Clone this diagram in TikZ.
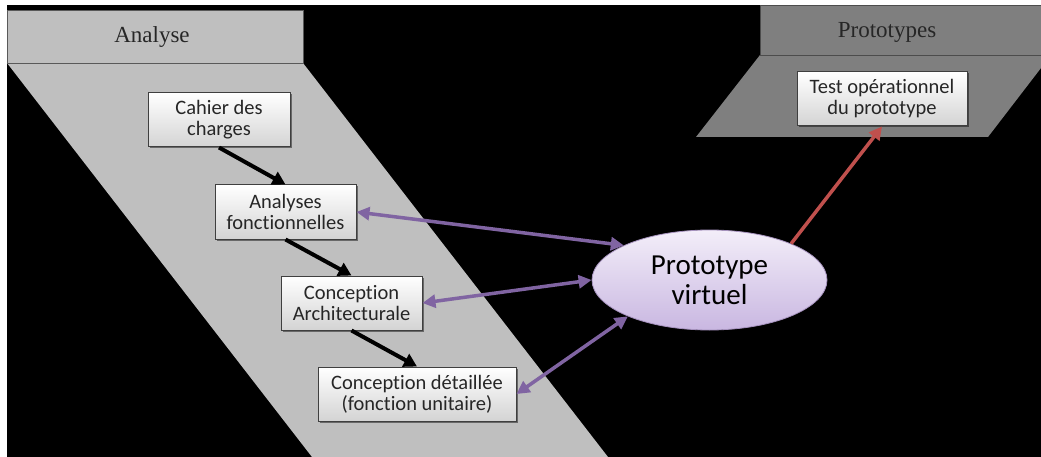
\documentclass[tikz,border=0pt]{standalone}
\usepackage{fontspec}
\newfontfamily\calib[Ligatures=NoCommon]{Carlito}
\newfontfamily\timesf{Liberation Serif}
\usetikzlibrary{shapes.geometric,arrows.meta,shadows}
\definecolor{bandgray}{HTML}{BFBFBF}
\definecolor{protogray}{HTML}{7F7F7F}
\definecolor{ppl}{HTML}{8064A2}
\definecolor{rd}{HTML}{C0504D}
\definecolor{boxline}{HTML}{3F3F3F}
\definecolor{txt}{HTML}{262626}
\definecolor{elltop}{HTML}{F3EEF9}
\definecolor{ellbot}{HTML}{C9B7E1}
\begin{document}
\begin{tikzpicture}[x=1pt,y=-1pt,
  stepbox/.style={draw=boxline, line width=1pt, top color=white, bottom color=black!17,
    minimum height=54pt, inner sep=0pt, align=center,
    font=\calib\fontsize{20.5}{21}\selectfont, text=txt,
    drop shadow={shadow xshift=1.5pt, shadow yshift=-1.5pt, opacity=0.45, fill=black}},
  headtext/.style={font=\timesf\fontsize{23}{26}\selectfont, text=txt},
  flow/.style={line width=4pt, black, -{Triangle[length=13pt,width=14pt]}},
  link/.style={line width=3.5pt, ppl, {Triangle[length=13pt,width=13pt]}-{Triangle[length=13pt,width=13pt]}},
  redarrow/.style={line width=3.5pt, rd, -{Triangle[length=13pt,width=13pt]}},
  ellnode/.style={ellipse, draw=ppl!70, line width=0.8pt, top color=elltop, bottom color=ellbot,
    minimum width=235pt, minimum height=100pt, inner sep=0pt, align=center,
    font=\calib\fontsize{29}{30}\selectfont, text=black}
]
\useasboundingbox (0,0) rectangle (1041,457);
\fill[white] (0,0) rectangle (1041,457);
\fill[black] (7,5) rectangle (1041,457);

% Analyse column
\fill[bandgray] (7,63) -- (303,63) -- (608,457) -- (312,457) -- cycle;
\filldraw[fill=bandgray, draw=black!65, line width=0.8pt] (7,10) rectangle (303,63);
\node[headtext] (hA) at (152,37) {Analyse};

% Prototypes column
\fill[protogray] (760,55) -- (1041,55) -- (1041,68) -- (988,137) -- (696,137) -- cycle;
\filldraw[fill=protogray, draw=black!70, line width=0.8pt] (760,5) rectangle (1042,55);
\node[headtext] (hP) at (887,32) {Prototypes};

% boxes
\node[stepbox, minimum width=142pt] (cahier) at (219,120) {Cahier des\\charges};
\node[stepbox, minimum width=141pt] (analyses) at (285.5,212) {Analyses\\fonctionnelles};
\node[stepbox, minimum width=141pt] (archi) at (351.5,303) {Conception\\Architecturale};
\node[stepbox, minimum width=198pt] (det) at (417,394) {Conception détaillée\\(fonction unitaire)};
\node[stepbox, minimum width=170pt] (test) at (882,99) {Test opérationnel\\du prototype};
\node[ellnode] (proto) at (709.5,280) {Prototype\\virtuel};

% black flow arrows
\draw[flow] (cahier.south) -- (analyses.north);
\draw[flow] (analyses.south) -- (archi.north);
\draw[flow] (archi.south) -- (det.north);

% purple links
\draw[link] (analyses.east) -- (proto.158);
\draw[link] (archi.east) -- (proto.180);
\draw[link] (det.east) -- (proto.204);

% red arrow
\draw[redarrow] (proto.24) -- (test.south);
\end{tikzpicture}
\end{document}
